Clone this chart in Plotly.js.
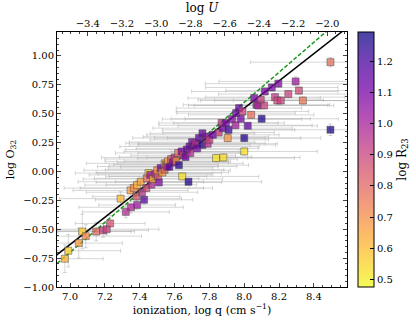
<!DOCTYPE html>
<html>
<head>
<meta charset="utf-8">
<script src="https://cdn.plot.ly/plotly-3.0.1.min.js"></script>
<style>
html, body {margin: 0; padding: 0; background: #fff;}
#plot {width: 416px; height: 324px;}
</style>
</head>
<body>
<div id="plot"></div>
<script>
/* values */
var logQ = [6.97, 6.99, 7.05, 7.07, 7.09, 7.15, 7.19, 7.21, 7.23, 7.29,
  7.32, 7.35, 7.385, 7.425, 7.347, 7.366, 7.385, 7.406, 7.38, 7.413,
  7.438, 7.45, 7.44, 7.46, 7.467, 7.476, 7.49, 7.505, 7.51, 7.50,
  7.52, 7.53, 7.543, 7.543, 7.55, 7.558, 7.562, 7.57, 7.58, 7.59,
  7.60, 7.61, 7.62, 7.625, 7.64, 7.644, 7.65, 7.663, 7.67, 7.68,
  7.686, 7.69, 7.70, 7.714, 7.72, 7.73, 7.74, 7.76, 7.76, 7.78,
  7.79, 7.80, 7.82, 7.838, 7.853, 7.876, 7.88, 7.87, 7.895, 7.905,
  7.91, 7.93, 7.953, 7.95, 7.97, 7.98, 7.99, 8.00, 8.00, 8.02,
  8.04, 8.057, 8.07, 8.08, 8.095, 8.10, 8.114, 8.118, 8.158, 8.177,
  8.19, 8.196, 8.21, 8.253, 8.295, 8.314, 8.337, 8.495, 8.495];
var logO32 = [-0.755, -0.686, -0.62, -0.52, -0.56, -0.52, -0.51, -0.50, -0.45, -0.235,
  -0.35, -0.31, -0.29, -0.245, -0.164, -0.144, -0.118, -0.089, -0.216, -0.18,
  -0.144, -0.014, -0.06, -0.03, -0.115, -0.066, -0.02, -0.043, -0.095, 0.01,
  0.03, -0.009, 0.015, 0.07, 0.06, 0.043, 0.087, 0.04, 0.107, 0.078,
  0.12, 0.09, 0.16, 0.055, 0.173, -0.043, 0.14, 0.125, 0.19, -0.089,
  0.216, 0.16, 0.254, 0.231, 0.245, 0.20, 0.29, 0.23, 0.33, 0.30,
  0.24, 0.274, 0.317, 0.116, 0.337, 0.375, 0.121, 0.42, 0.419, 0.289,
  0.36, 0.453, 0.505, 0.40, 0.548, 0.456, 0.519, 0.289, 0.173, 0.395,
  0.49, 0.635, 0.577, 0.571, 0.62, 0.456, 0.571, 0.692, 0.727, 0.643,
  0.614, 0.76, 0.614, 0.67, 0.779, 0.70, 0.614, 0.946, 0.361];
var logR23 = [0.62, 0.57, 0.68, 0.57, 0.72, 0.80, 0.92, 0.90, 0.86, 0.60,
  0.97, 0.98, 1.03, 1.17, 0.66, 0.72, 0.62, 0.66, 0.85, 0.95,
  0.88, 0.55, 0.78, 1.05, 0.98, 0.64, 0.95, 0.82, 1.08, 0.70,
  1.12, 0.66, 0.82, 0.62, 0.88, 0.96, 0.64, 1.18, 0.85, 1.10,
  0.95, 0.70, 0.76, 1.25, 1.10, 0.52, 0.92, 1.12, 1.15, 1.26,
  1.12, 0.98, 1.10, 1.08, 0.96, 1.12, 1.16, 1.25, 1.14, 1.08,
  0.96, 0.90, 1.12, 0.52, 0.92, 1.12, 0.53, 0.96, 1.10, 0.68,
  1.22, 1.08, 1.12, 1.00, 1.14, 1.10, 0.90, 1.25, 0.52, 1.15,
  0.78, 1.10, 1.05, 0.98, 0.92, 1.26, 0.90, 1.10, 1.10, 0.92,
  0.88, 1.08, 0.90, 0.90, 1.02, 0.88, 0.76, 0.78, 1.27];
var qErr = [0.22, 0.30, 0.25, 0.28, 0.32, 0.22, 0.26, 0.30, 0.20, 0.35,
  0.25, 0.30, 0.22, 0.28, 0.33, 0.40, 0.30, 0.36, 0.25, 0.32,
  0.38, 0.42, 0.30, 0.35, 0.26, 0.40, 0.33, 0.28, 0.36, 0.42,
  0.30, 0.38, 0.34, 0.45, 0.30, 0.40, 0.36, 0.28, 0.38, 0.32,
  0.42, 0.30, 0.36, 0.40, 0.33, 0.44, 0.30, 0.38, 0.35, 0.42,
  0.40, 0.30, 0.36, 0.32, 0.40, 0.35, 0.38, 0.42, 0.30, 0.36,
  0.40, 0.34, 0.38, 0.45, 0.32, 0.40, 0.44, 0.36, 0.30, 0.42,
  0.38, 0.40, 0.34, 0.44, 0.36, 0.40, 0.38, 0.44, 0.42, 0.40,
  0.36, 0.38, 0.42, 0.40, 0.36, 0.44, 0.40, 0.42, 0.38, 0.40,
  0.44, 0.42, 0.38, 0.40, 0.44, 0.42, 0.40, 0.46, 0.45];
var o32Err = [0.12, 0.14, 0.13, 0.15, 0.10, 0.08, 0.06, 0.05, 0.07, 0.06,
  0.05, 0.05, 0.04, 0.04, 0.05, 0.04, 0.04, 0.03, 0.04, 0.04,
  0.03, 0.03, 0.03, 0.03, 0.03, 0.03, 0.03, 0.03, 0.03, 0.03,
  0.03, 0.03, 0.03, 0.03, 0.03, 0.03, 0.03, 0.03, 0.03, 0.03,
  0.03, 0.03, 0.03, 0.03, 0.03, 0.03, 0.03, 0.03, 0.03, 0.03,
  0.03, 0.03, 0.03, 0.03, 0.03, 0.03, 0.03, 0.03, 0.03, 0.03,
  0.03, 0.03, 0.03, 0.03, 0.03, 0.03, 0.03, 0.03, 0.03, 0.03,
  0.03, 0.03, 0.03, 0.03, 0.03, 0.03, 0.03, 0.03, 0.03, 0.03,
  0.03, 0.03, 0.03, 0.03, 0.03, 0.03, 0.03, 0.03, 0.03, 0.03,
  0.03, 0.03, 0.03, 0.03, 0.04, 0.03, 0.03, 0.04, 0.05];

/* black fit and green dashed relation, end points */
var lineQ = [6.9, 8.6];
var fitO32 = [-0.75, 1.256];
var relO32 = [-0.83, 1.378];

/* plasma reversed, drawn at 75% alpha */
var plasmaR = [
  [0.0, 'rgba(240,249,33,0.75)'],
  [0.111, 'rgba(253,202,38,0.75)'],
  [0.222, 'rgba(251,159,58,0.75)'],
  [0.333, 'rgba(237,121,83,0.75)'],
  [0.444, 'rgba(216,87,107,0.75)'],
  [0.556, 'rgba(189,55,134,0.75)'],
  [0.667, 'rgba(156,23,158,0.75)'],
  [0.778, 'rgba(114,1,168,0.75)'],
  [0.889, 'rgba(70,3,159,0.75)'],
  [1.0, 'rgba(13,8,135,0.75)']
];

var serif = 'DejaVu Serif, serif';

var errTrace = {
  x: logQ, y: logO32,
  type: 'scatter', mode: 'markers',
  marker: {size: 1, opacity: 0},
  error_x: {type: 'data', array: qErr, color: 'rgba(175,175,175,0.5)', thickness: 1, width: 2},
  error_y: {type: 'data', array: o32Err, color: 'rgba(175,175,175,0.5)', thickness: 1, width: 2},
  showlegend: false, hoverinfo: 'skip'
};

var pts = {
  x: logQ, y: logO32,
  type: 'scatter', mode: 'markers',
  marker: {
    symbol: 'square', size: 7,
    color: logR23, colorscale: plasmaR, cmin: 0.475, cmax: 1.295,
    line: {color: 'rgba(70,70,70,0.8)', width: 0.6},
    colorbar: {
      x: 1.038, xanchor: 'left', xpad: 0, ypad: 0, y: 0.5, len: 1, lenmode: 'fraction',
      thickness: 16, outlinecolor: '#000', outlinewidth: 1,
      ticks: 'inside', ticklen: 4, tickcolor: '#000',
      tick0: 0.5, dtick: 0.1, tickformat: '.1f',
      tickfont: {family: serif, size: 10, color: '#000'},
      title: {text: 'log R<sub>23</sub>', side: 'right', font: {family: serif, size: 12, color: '#000'}}
    }
  },
  showlegend: false
};

var fit = {
  x: lineQ, y: fitO32, type: 'scatter', mode: 'lines',
  line: {color: '#000', width: 1.5}, showlegend: false
};
var rel = {
  x: lineQ, y: relO32, type: 'scatter', mode: 'lines',
  line: {color: '#1a9a1a', width: 1.5, dash: '4px,2px'}, showlegend: false
};

var layout = {
  width: 416, height: 324,
  margin: {l: 57, r: 69, t: 32, b: 37, autoexpand: false},
  paper_bgcolor: '#fff', plot_bgcolor: '#fff',
  font: {family: serif, size: 10, color: '#000'},
  xaxis: {
    range: [6.925, 8.59], tick0: 7.0, dtick: 0.2, tickformat: '.1f',
    ticks: 'inside', ticklen: 4, showline: true, linecolor: '#000', linewidth: 1,
    showgrid: false, zeroline: false,
    minor: {ticks: 'inside', ticklen: 2, dtick: 0.05, showgrid: false},
    title: {text: 'ionization, log q (cm s<sup>−1</sup>)', font: {size: 11}, standoff: 4}
  },
  xaxis2: {
    overlaying: 'x', side: 'top', anchor: 'y',
    range: [-3.58, -1.885], tick0: -3.4, dtick: 0.2, tickformat: '.1f',
    ticks: 'inside', ticklen: 4, showline: true, linecolor: '#000', linewidth: 1,
    showgrid: false, zeroline: false,
    minor: {ticks: 'inside', ticklen: 2, dtick: 0.05, showgrid: false},
    title: {text: 'log <i>U</i>', font: {size: 12}, standoff: 2}
  },
  yaxis: {
    range: [-1.0, 1.207], tick0: -1, dtick: 0.25, tickformat: '.2f',
    ticks: 'inside', ticklen: 4, showline: true, linecolor: '#000', linewidth: 1,
    mirror: 'ticks', showgrid: false, zeroline: false,
    minor: {ticks: 'inside', ticklen: 2, dtick: 0.05, showgrid: false},
    title: {text: 'log O<sub>32</sub>', font: {size: 11}, standoff: 6}
  }
};

var dummyTop = {x: [-3.0], y: [0], xaxis: 'x2', type: 'scatter', mode: 'markers',
  marker: {opacity: 0}, showlegend: false, hoverinfo: 'skip'};

Plotly.newPlot('plot', [errTrace, fit, rel, pts, dummyTop], layout, {staticPlot: true, displayModeBar: false});
</script>
</body>
</html>
